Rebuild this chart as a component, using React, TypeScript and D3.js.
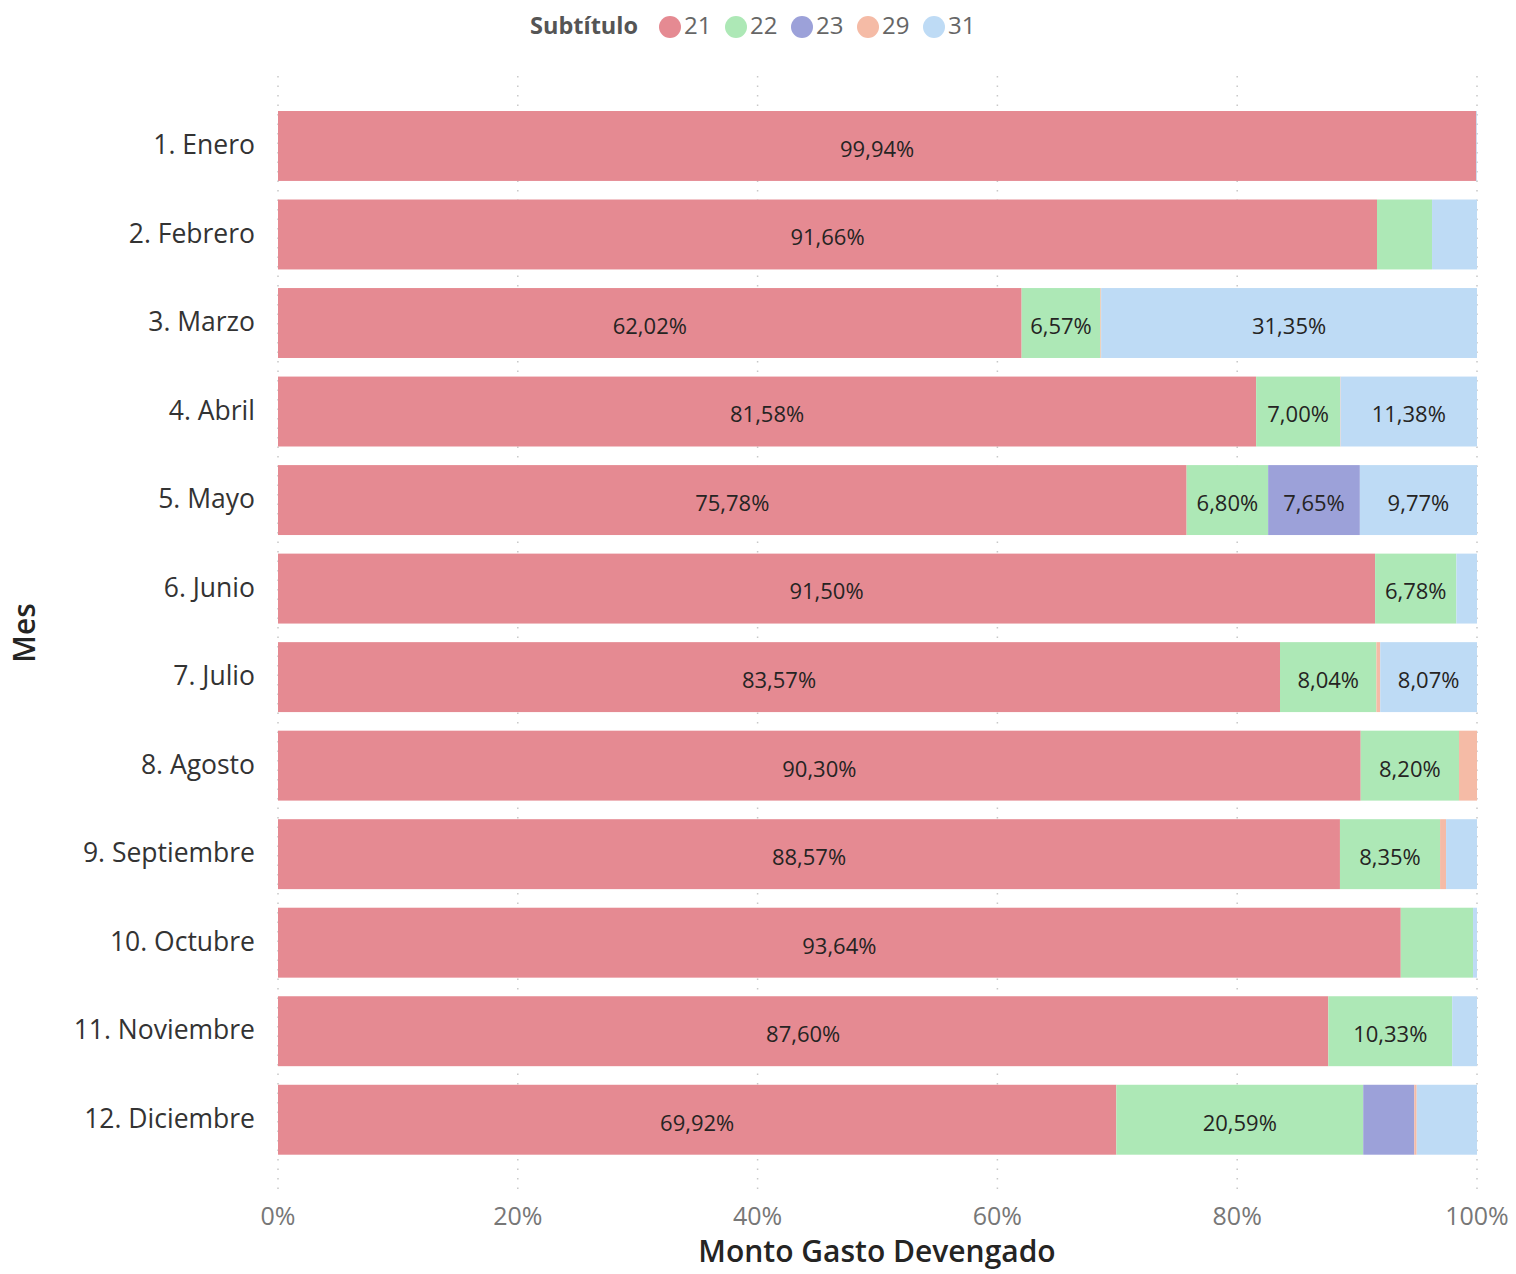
import React, { useEffect, useRef } from "react";
import * as d3 from "d3";

const months = [
  "1. Enero", "2. Febrero", "3. Marzo", "4. Abril", "5. Mayo", "6. Junio",
  "7. Julio", "8. Agosto", "9. Septiembre", "10. Octubre", "11. Noviembre", "12. Diciembre",
];
const seriesKeys = ["21", "22", "23", "29", "31"];
const s21 = [99.94, 91.66, 62.02, 81.58, 75.78, 91.5, 83.57, 90.3, 88.57, 93.64, 87.6, 69.92];
const s22 = [0, 4.59, 6.57, 7.0, 6.8, 6.78, 8.04, 8.2, 8.35, 6.03, 10.33, 20.59];
const s23 = [0, 0, 0, 0, 7.65, 0, 0, 0, 0, 0, 0, 4.26];
const s29 = [0, 0, 0.06, 0.04, 0, 0, 0.32, 1.5, 0.5, 0, 0, 0.2];
const s31 = [0.06, 3.75, 31.35, 11.38, 9.77, 1.72, 8.07, 0, 2.58, 0.33, 2.07, 5.03];
const colors = ["#E58A92", "#ADE8B6", "#9CA1D9", "#F5BBA6", "#BEDBF5"];
const xTicks = [0, 20, 40, 60, 80, 100];

export default function App() {
  const ref = useRef<SVGSVGElement>(null);
  useEffect(() => {
    const svg = d3.select(ref.current);
    svg.selectAll("*").remove();
    const font = "'Open Sans', 'Noto Sans', sans-serif";
    const x = d3.scaleLinear().domain([0, 100]).range([278, 1477]);
    const y = d3.scaleBand().domain(months).range([101.7, 1164]).paddingInner(0.21).paddingOuter(0.105);

    // gridlines
    svg.append("g").selectAll("line").data(xTicks).join("line")
      .attr("x1", (d) => x(d)).attr("x2", (d) => x(d))
      .attr("y1", 76).attr("y2", 1196)
      .attr("stroke", "#C8C8C8").attr("stroke-width", 1.5)
      .attr("stroke-dasharray", "1.5,8");

    const rows = months.map((m, i) => ({
      m, vals: [s21[i], s22[i], s23[i], s29[i], s31[i]],
    }));
    const g = svg.append("g");
    rows.forEach((r) => {
      let acc = 0;
      r.vals.forEach((v, k) => {
        if (v <= 0) return;
        const x0 = x(acc), x1 = x(acc + v);
        acc += v;
        g.append("rect")
          .attr("x", x0).attr("y", y(r.m)!)
          .attr("width", x1 - x0).attr("height", y.bandwidth())
          .attr("fill", colors[k]);
        if (v >= 6.3) {
          g.append("text")
            .attr("x", (x0 + x1) / 2).attr("y", y(r.m)! + y.bandwidth() / 2 + 5)
            .attr("text-anchor", "middle").attr("dominant-baseline", "middle")
            .attr("font-family", font).attr("font-size", 22)
            .attr("fill", "#252423")
            .text(v.toFixed(2).replace(".", ",") + "%");
        }
      });
    });

    // y labels
    svg.append("g").selectAll("text").data(months).join("text")
      .attr("x", 255).attr("y", (d) => y(d)! + y.bandwidth() / 2 + 1)
      .attr("text-anchor", "end").attr("dominant-baseline", "middle")
      .attr("font-family", font).attr("font-size", 26.5).attr("fill", "#333")
      .text((d) => d);

    // x ticks
    svg.append("g").selectAll("text").data(xTicks).join("text")
      .attr("x", (d) => x(d)).attr("y", 1218)
      .attr("text-anchor", "middle").attr("dominant-baseline", "middle")
      .attr("font-family", font).attr("font-size", 25).attr("fill", "#777")
      .text((d) => d + "%");

    svg.append("text").attr("x", 877).attr("y", 1254)
      .attr("text-anchor", "middle").attr("dominant-baseline", "middle")
      .attr("font-family", font).attr("font-size", 30).attr("font-weight", 600)
      .attr("fill", "#252423").text("Monto Gasto Devengado");

    svg.append("text").attr("transform", "translate(27,633) rotate(-90)")
      .attr("text-anchor", "middle").attr("dominant-baseline", "middle")
      .attr("font-family", font).attr("font-size", 30).attr("font-weight", 600)
      .attr("fill", "#252423").text("Mes");

    // legend
    const lg = svg.append("g");
    lg.append("text").attr("x", 530).attr("y", 28).attr("dominant-baseline", "middle")
      .attr("font-family", font).attr("font-size", 23.5).attr("font-weight", 700)
      .attr("fill", "#555").text("Subtítulo");
    seriesKeys.forEach((k, i) => {
      const cx = 670 + i * 66;
      lg.append("circle").attr("cx", cx).attr("cy", 27).attr("r", 11).attr("fill", colors[i]);
      lg.append("text").attr("x", cx + 14).attr("y", 28).attr("dominant-baseline", "middle")
        .attr("font-family", font).attr("font-size", 24).attr("fill", "#666").text(k);
    });
  }, []);
  return (
    <svg ref={ref} width={1516} height={1274}
      style={{ position: "absolute", left: 0, top: 0, background: "#fff" }} />
  );
}
